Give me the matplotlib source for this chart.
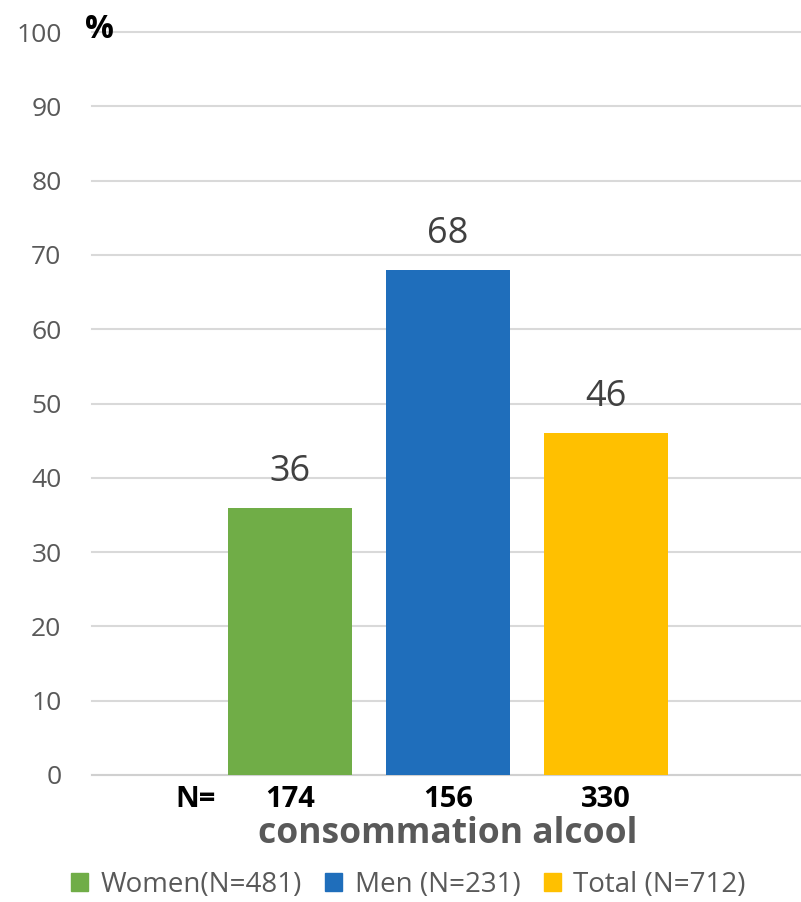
import matplotlib.pyplot as plt
from matplotlib.patches import Patch

series = ['Women(N=481)', 'Men (N=231)', 'Total (N=712)']
percent = [36, 68, 46]
counts = [174, 156, 330]
colors = ['#70AD47', '#1F6EBB', '#FFC000']
category = 'consommation alcool'
yticks = list(range(0, 101, 10))

GRAY = '#595959'
plt.rcParams['font.family'] = ['Open Sans', 'DejaVu Sans']

fig = plt.figure(figsize=(8.01, 9.02), dpi=100)
ax = fig.add_axes([92 / 801, 1 - 775 / 902, 1 - 92 / 801, (775 - 32) / 902])

xs = list(range(len(series)))
ax.bar(xs, percent, width=0.79, color=colors, zorder=3)
for x, v in zip(xs, percent):
    ax.text(x, v + 2.4, str(v), ha='center', va='bottom', fontsize=26, color='#404040')

ax.set_xlim(-1.253, 3.234)
ax.set_ylim(0, 100)
ax.set_yticks(yticks)
ax.set_yticklabels([str(t) for t in yticks], fontsize=19, color=GRAY)
ax.tick_params(axis='y', length=0, pad=22)
ax.set_xticks([])
ax.grid(axis='y', color='#D9D9D9', linewidth=1.5, zorder=0)
for gl in ax.get_ygridlines():
    gl.set_clip_on(False)
for s in ['top', 'right', 'left']:
    ax.spines[s].set_visible(False)
ax.spines['bottom'].set_color('#D0D0D0')
ax.spines['bottom'].set_linewidth(1.5)

# counts under each bar
ax.text(-0.6, -1.3, 'N=', ha='center', va='top', fontsize=21, fontweight='bold',
        clip_on=False)
for x, n in zip(xs, counts):
    ax.text(x, -1.3, str(n), ha='center', va='top', fontsize=21, fontweight='bold',
            clip_on=False)
ax.text(1, -5.5, category, ha='center', va='top', fontsize=25.5, fontweight='bold',
        color=GRAY, clip_on=False)

fig.text(85 / 801, 1 - 30 / 902, '%', fontsize=23, fontweight='bold', va='center')

handles = [Patch(color=c) for c in colors]
fig.legend(handles, series, loc='center', bbox_to_anchor=(0.51, 1 - 885 / 902), ncol=3,
           frameon=False, labelcolor=GRAY, handlelength=0.6, handleheight=0.6,
           handletextpad=0.45, columnspacing=0.85, prop={'size': 20})

fig.savefig('out.png', dpi=100)
